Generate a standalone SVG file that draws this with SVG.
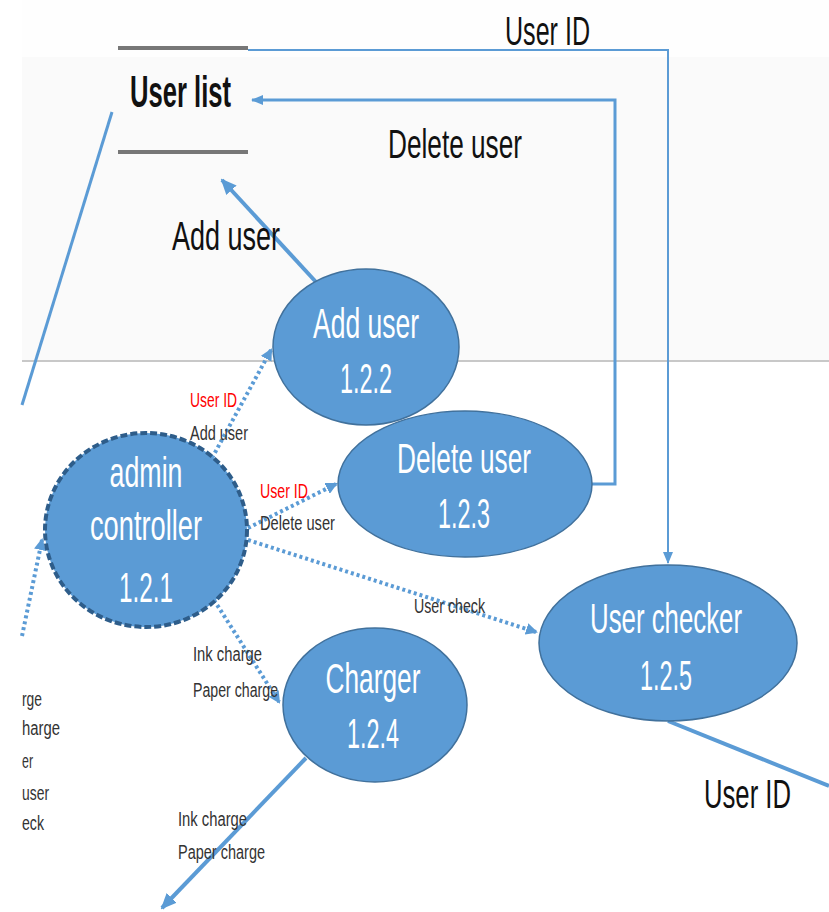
<svg xmlns="http://www.w3.org/2000/svg" width="829" height="912" viewBox="0 0 829 912">
<style>
.t{font-family:"Liberation Sans",Arial,sans-serif}
.node{fill:#5b9bd5;stroke:#41719c;stroke-width:1.5}
.nt{font-size:42px;fill:#ffffff;text-anchor:middle}
.lbl{font-size:40px;fill:#111}
.sm{font-size:20px;fill:#333}
.red{font-size:20px;fill:#ff0000}
.solid{fill:none;stroke:#5b9bd5}
.dot{fill:none;stroke:#5b9bd5;stroke-width:4;stroke-dasharray:3 3}
</style>
<defs>
<marker id="ah" markerUnits="userSpaceOnUse" markerWidth="16" markerHeight="14" refX="14" refY="7" orient="auto">
<path d="M0,0 L16,7 L0,14 z" fill="#5b9bd5"/>
</marker>
<marker id="ahs" markerUnits="userSpaceOnUse" markerWidth="12" markerHeight="10" refX="11" refY="5" orient="auto">
<path d="M0,0 L12,5 L0,10 z" fill="#5b9bd5"/>
</marker>
<marker id="ahd" markerUnits="userSpaceOnUse" markerWidth="12" markerHeight="12" refX="10" refY="6" orient="auto">
<path d="M0,0 L12,6 L0,12 z" fill="#5b9bd5"/>
</marker>
</defs>
<rect x="0" y="0" width="829" height="912" fill="#ffffff"/>
<rect x="22" y="0" width="807" height="57" fill="#fefefe"/>
<rect x="22" y="57" width="807" height="304" fill="#fafafa"/>
<line x1="22" y1="361" x2="829" y2="361" stroke="#c8c8c8" stroke-width="2"/>

<g id="user-list">
<line x1="118" y1="48" x2="248" y2="48" stroke="#777" stroke-width="4"/>
<line x1="118" y1="152" x2="248" y2="152" stroke="#777" stroke-width="4"/>
<text class="t" x="130" y="107" font-size="44" font-weight="bold" fill="#111" textLength="101" lengthAdjust="spacingAndGlyphs">User list</text>
</g>

<g id="connectors">
<path class="solid" stroke-width="2" d="M248,50 H668 V563" marker-end="url(#ahs)"/>
<path class="solid" stroke-width="3" stroke="#6fa6dc" d="M592,484 H615 V100 H252" marker-end="url(#ahs)"/>
<path class="solid" stroke-width="4" d="M316,282 L222,180" marker-end="url(#ah)"/>
<path class="solid" stroke-width="3" d="M112,112 L22,405"/>
<path class="solid" stroke-width="4" d="M306,758 L162,908" marker-end="url(#ah)"/>
<path class="solid" stroke-width="4" d="M668,721 L829,786"/>
<path class="dot" d="M212,458 L271,350" marker-end="url(#ahd)"/>
<path class="dot" d="M248,528 L336,484" marker-end="url(#ahd)"/>
<path class="dot" d="M248,540 L536,632" marker-end="url(#ahd)"/>
<path class="dot" d="M214,600 L279,702" marker-end="url(#ahd)"/>
<path class="dot" d="M22,636 L42,540" marker-end="url(#ahd)"/>
</g>

<g id="labels">
<text class="t lbl" x="505" y="45" font-size="42" textLength="85" lengthAdjust="spacingAndGlyphs">User ID</text>
<text class="t lbl" x="388" y="158" textLength="134" lengthAdjust="spacingAndGlyphs">Delete user</text>
<text class="t lbl" x="172" y="250" textLength="108" lengthAdjust="spacingAndGlyphs">Add user</text>
<text class="t lbl" x="704" y="808" textLength="87" lengthAdjust="spacingAndGlyphs">User ID</text>
<text class="t red" x="190" y="407" textLength="47" lengthAdjust="spacingAndGlyphs">User ID</text>
<text class="t sm" x="190" y="440" textLength="58" lengthAdjust="spacingAndGlyphs">Add user</text>
<text class="t red" x="260" y="498" textLength="48" lengthAdjust="spacingAndGlyphs">User ID</text>
<text class="t sm" x="260" y="530" textLength="75" lengthAdjust="spacingAndGlyphs">Delete user</text>
<text class="t sm" x="414" y="613" textLength="71" lengthAdjust="spacingAndGlyphs">User check</text>
<text class="t sm" x="193" y="661" textLength="69" lengthAdjust="spacingAndGlyphs">Ink charge</text>
<text class="t sm" x="193" y="697" textLength="85" lengthAdjust="spacingAndGlyphs">Paper charge</text>
<text class="t sm" x="178" y="826" textLength="69" lengthAdjust="spacingAndGlyphs">Ink charge</text>
<text class="t sm" x="178" y="859" textLength="87" lengthAdjust="spacingAndGlyphs">Paper charge</text>
<text class="t sm" x="22" y="706" textLength="20" lengthAdjust="spacingAndGlyphs">rge</text>
<text class="t sm" x="22" y="735" textLength="38" lengthAdjust="spacingAndGlyphs">harge</text>
<text class="t sm" x="22" y="768" textLength="11" lengthAdjust="spacingAndGlyphs">er</text>
<text class="t sm" x="22" y="800" textLength="27" lengthAdjust="spacingAndGlyphs">user</text>
<text class="t sm" x="22" y="830" textLength="22" lengthAdjust="spacingAndGlyphs">eck</text>
</g>

<g id="admin-controller">
<ellipse cx="146" cy="530" rx="101" ry="97" fill="#5b9bd5" stroke="#2e5d8a" stroke-width="4" stroke-dasharray="7 3"/>
<text class="t nt" x="146" y="487" textLength="73" lengthAdjust="spacingAndGlyphs">admin</text>
<text class="t nt" x="146" y="540" textLength="112" lengthAdjust="spacingAndGlyphs">controller</text>
<text class="t nt" x="146" y="602" textLength="54" lengthAdjust="spacingAndGlyphs">1.2.1</text>
</g>

<g id="add-user">
<ellipse class="node" cx="366" cy="347" rx="93" ry="78"/>
<text class="t nt" x="366" y="338" textLength="106" lengthAdjust="spacingAndGlyphs">Add user</text>
<text class="t nt" x="366" y="393" textLength="52" lengthAdjust="spacingAndGlyphs">1.2.2</text>
</g>

<g id="delete-user">
<ellipse class="node" cx="465" cy="484" rx="127" ry="73"/>
<text class="t nt" x="464" y="473" textLength="134" lengthAdjust="spacingAndGlyphs">Delete user</text>
<text class="t nt" x="464" y="528" textLength="52" lengthAdjust="spacingAndGlyphs">1.2.3</text>
</g>

<g id="charger">
<ellipse class="node" cx="375" cy="705" rx="92" ry="77"/>
<text class="t nt" x="373" y="693" textLength="95" lengthAdjust="spacingAndGlyphs">Charger</text>
<text class="t nt" x="373" y="748" textLength="52" lengthAdjust="spacingAndGlyphs">1.2.4</text>
</g>

<g id="user-checker">
<ellipse class="node" cx="668" cy="643" rx="129" ry="78"/>
<text class="t nt" x="666" y="633" textLength="152" lengthAdjust="spacingAndGlyphs">User checker</text>
<text class="t nt" x="666" y="690" textLength="52" lengthAdjust="spacingAndGlyphs">1.2.5</text>
</g>
</svg>
